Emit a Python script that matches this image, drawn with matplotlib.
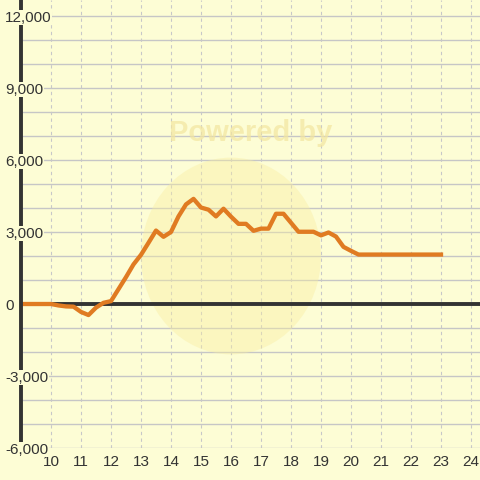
import numpy as np
from matplotlib import pyplot as plt
from matplotlib.patches import Ellipse

plt.rcParams['font.family'] = ['Liberation Sans', 'DejaVu Sans']

# hours of the day (15 min steps) and values
hours = [9.0, 9.25, 9.5, 9.75, 10.0, 10.25, 10.5, 10.75, 11.0, 11.25, 11.5, 11.75,
         12.0, 12.25, 12.5, 12.75, 13.0, 13.25, 13.5, 13.75, 14.0, 14.25, 14.5, 14.75,
         15.0, 15.25, 15.5, 15.75, 16.0, 16.25, 16.5, 16.75, 17.0, 17.25, 17.5, 17.75,
         18.25, 18.5, 18.75, 19.0, 19.25, 19.5, 19.75, 20.0, 20.25, 21.0, 22.0, 23.0]
values = [0, 0, 0, 0, 0, -60, -100, -110, -330, -460, -150, 50,
          120, 620, 1120, 1650, 2050, 2550, 3060, 2800, 3000, 3650, 4150, 4380,
          4020, 3930, 3650, 3970, 3640, 3340, 3340, 3050, 3140, 3140, 3760, 3760,
          3010, 3010, 3010, 2860, 2980, 2810, 2380, 2215, 2060, 2060, 2060, 2060]

x_ticks = list(range(10, 25))
y_ticks = list(range(-6000, 12001, 3000))
y_grid = list(range(-6000, 12001, 1000))

bg = '#FDFDD5'
fig = plt.figure(figsize=(4.8, 4.8), dpi=100, facecolor=bg)
ax = fig.add_axes([21 / 480, 32 / 480, 459 / 480, 448 / 480], facecolor=bg)

ax.set_xlim(9, 24.3)
ax.set_ylim(-6000, 12667)

# grid
for g in y_grid:
    ax.axhline(g, color='#C6C6C6', lw=1.0, zorder=1)
for t in x_ticks:
    ax.axvline(t, color='#C8C8C8', lw=0.8, ls=(0, (3, 3)), zorder=1)

# watermark
ax.add_patch(Ellipse((16.0, 2000), 6.0, 8200, transform=ax.transData,
                     color='#F8EDA0', alpha=0.4, zorder=2, lw=0))
ax.text(0.5, 0.703, 'Powered by', transform=ax.transAxes, ha='center', va='center',
        fontsize=21, fontweight='bold', color='#F3E6A0', alpha=0.7, zorder=2)

ax.axhline(0, color='#333333', lw=2.8, zorder=3)
ax.plot(hours, values, color='#E07B22', lw=3.1, zorder=4, solid_joinstyle='round')

for s in ['top', 'right', 'bottom']:
    ax.spines[s].set_visible(False)
ax.spines['left'].set_color('#333333')
ax.spines['left'].set_linewidth(2.8)
ax.spines['left'].set_zorder(4.5)
ax.yaxis.set_zorder(6)

ax.set_xticks(x_ticks)
ax.set_xticklabels([str(t) for t in x_ticks])
ax.set_yticks(y_ticks)
ax.set_yticklabels(['{:,}'.format(v) for v in y_ticks])
ax.tick_params(axis='x', length=0, pad=5, labelsize=11, labelcolor='#333333')
ax.tick_params(axis='y', length=0, pad=11.5, labelsize=11, labelcolor='#333333')
for lbl in ax.get_yticklabels():
    lbl.set_ha('left')
    lbl.set_bbox(dict(facecolor=bg, edgecolor='none', pad=0.5))

fig.savefig('out.png', dpi=100, facecolor=bg)
